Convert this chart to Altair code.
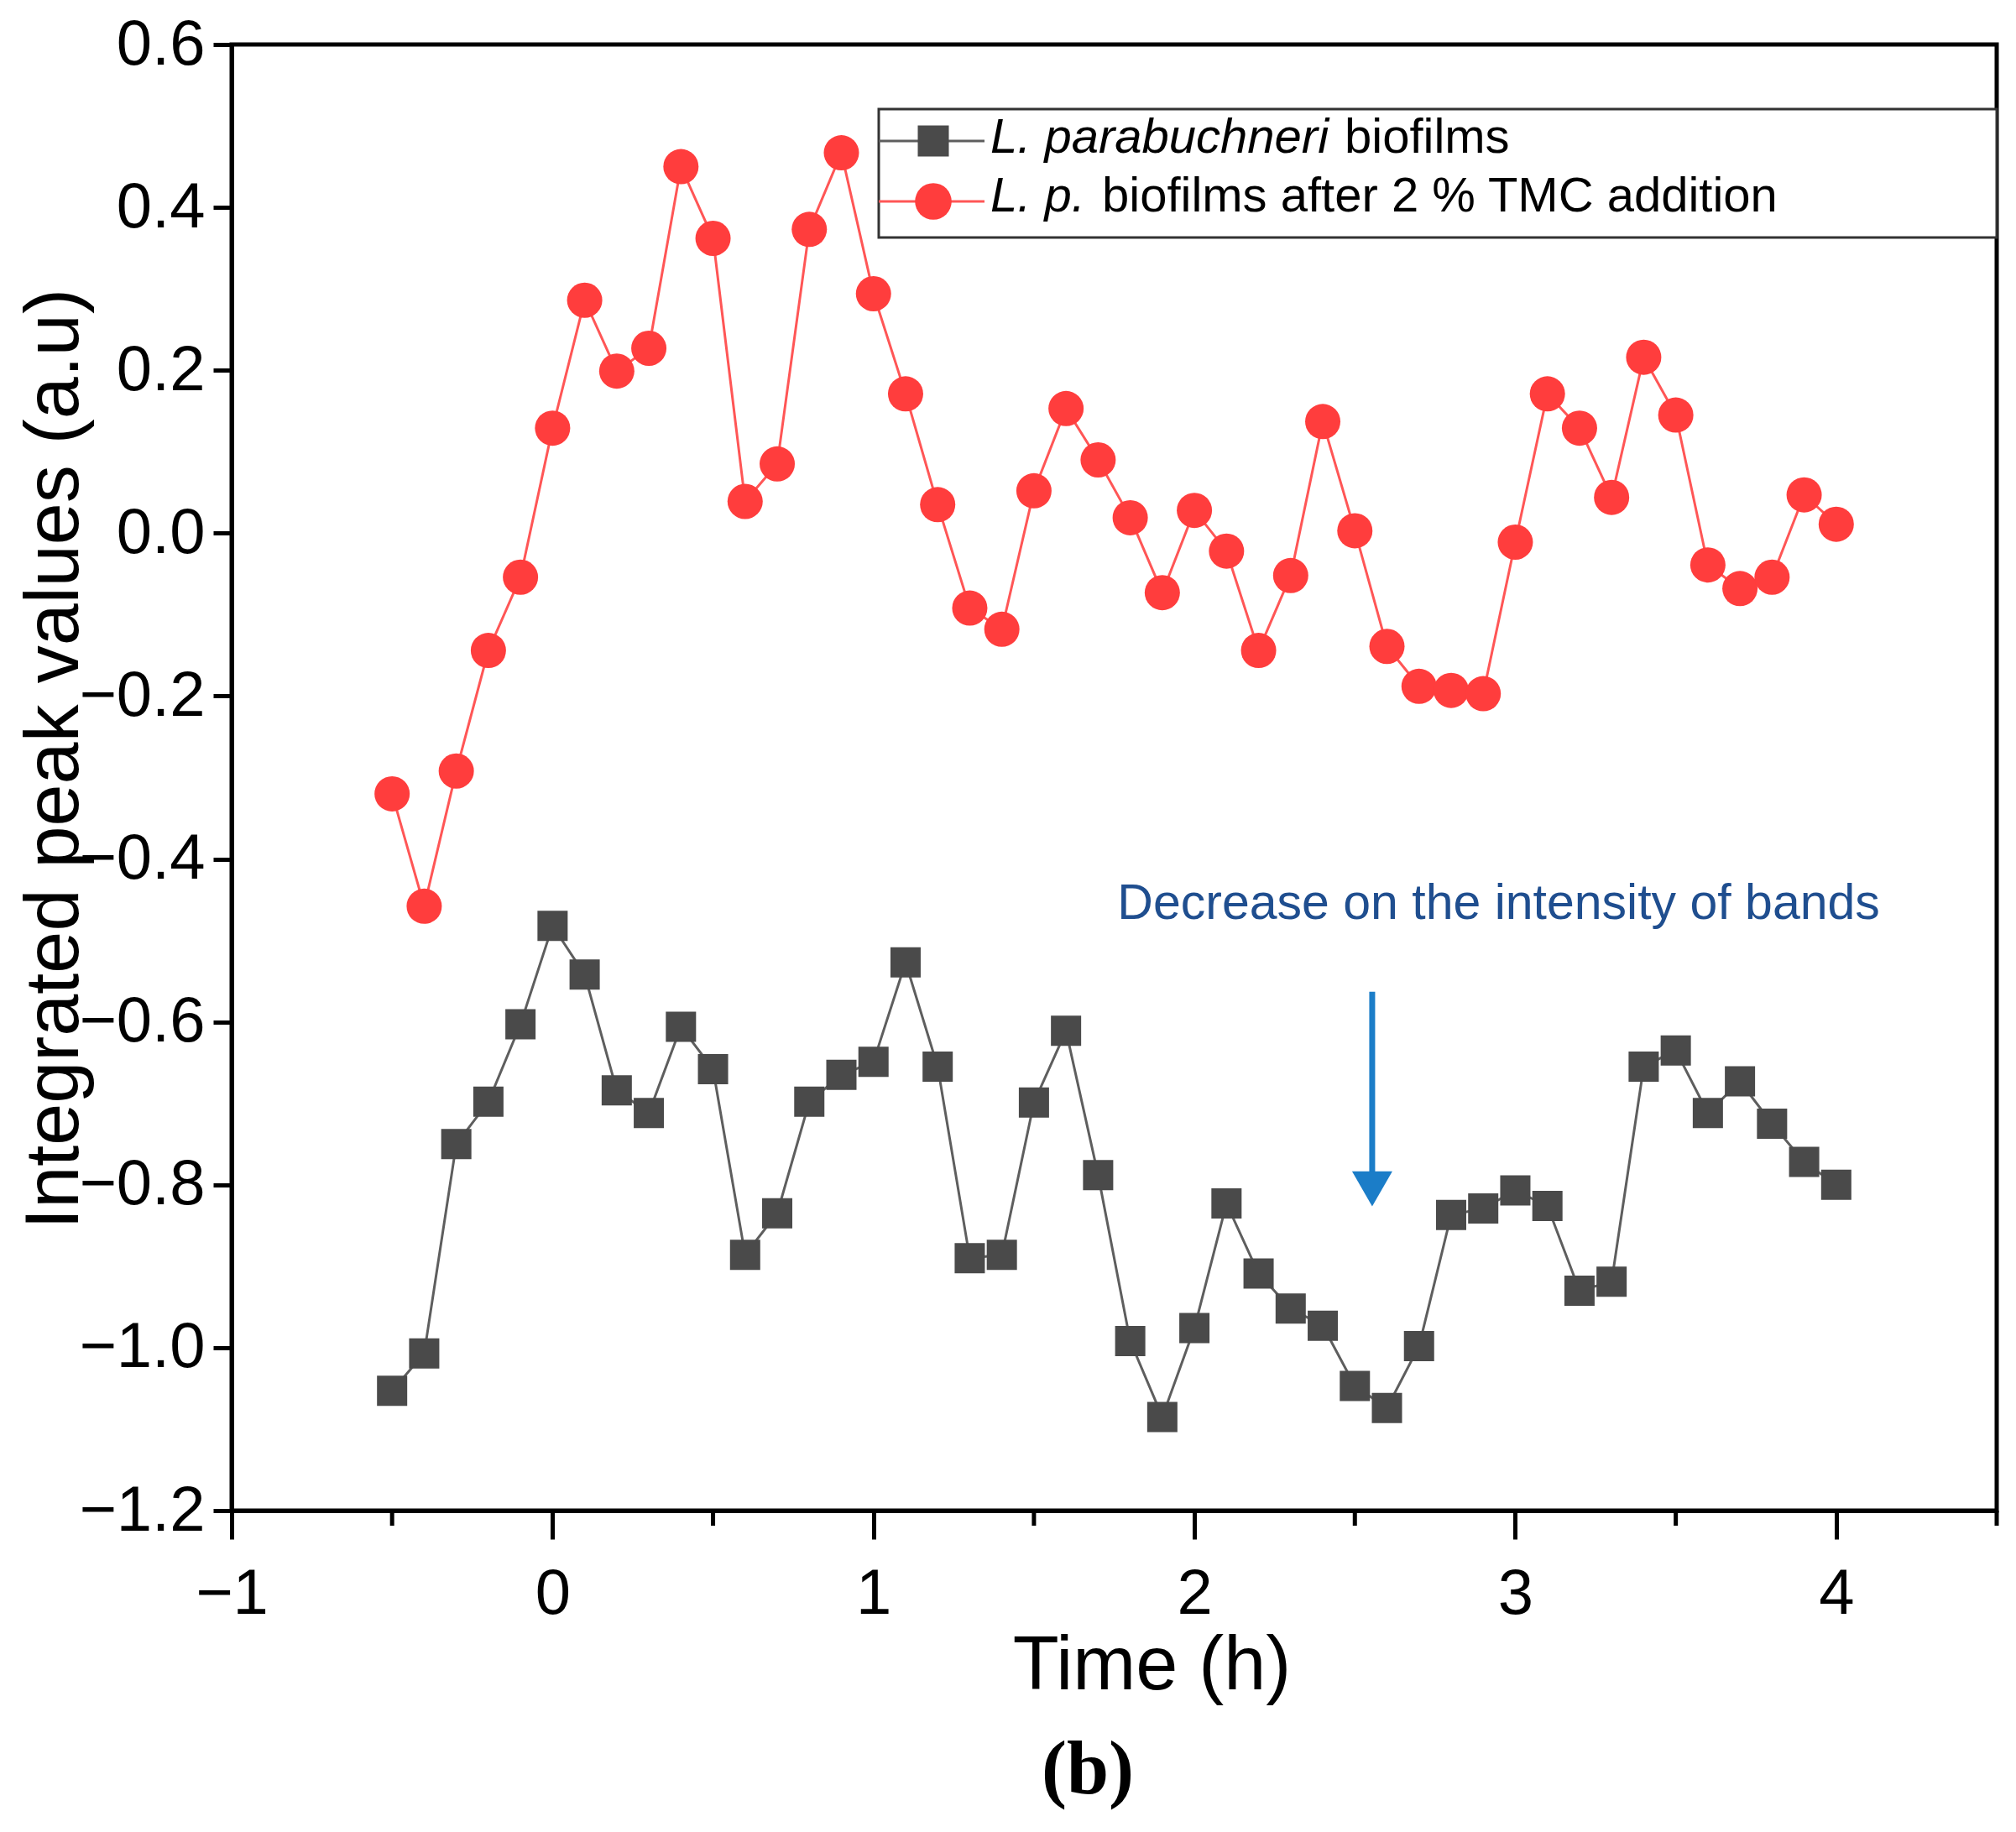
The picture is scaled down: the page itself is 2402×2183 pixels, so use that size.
import altair as alt
import pandas as pd

# ── data ─────────────────────────────────────────────────────────────
time_h = [-0.5, -0.4, -0.3, -0.2, -0.1, 0.0, 0.1, 0.2, 0.3, 0.4,
          0.5, 0.6, 0.7, 0.8, 0.9, 1.0, 1.1, 1.2, 1.3, 1.4,
          1.5, 1.6, 1.7, 1.8, 1.9, 2.0, 2.1, 2.2, 2.3, 2.4,
          2.5, 2.6, 2.7, 2.8, 2.9, 3.0, 3.1, 3.2, 3.3, 3.4,
          3.5, 3.6, 3.7, 3.8, 3.9, 4.0]

biofilm = [-1.053, -1.007, -0.750, -0.698, -0.603, -0.482, -0.542, -0.684, -0.712, -0.606,
           -0.658, -0.886, -0.835, -0.698, -0.665, -0.649, -0.527, -0.655, -0.890, -0.886,
           -0.699, -0.611, -0.788, -0.992, -1.085, -0.976, -0.823, -0.909, -0.952, -0.973,
           -1.047, -1.074, -0.998, -0.837, -0.829, -0.807, -0.826, -0.930, -0.919, -0.655,
           -0.635, -0.712, -0.673, -0.725, -0.772, -0.800]

biofilm_tmc = [-0.320, -0.458, -0.292, -0.144, -0.054, 0.129, 0.286, 0.199, 0.227, 0.450,
               0.362, 0.039, 0.085, 0.373, 0.467, 0.294, 0.171, 0.035, -0.092, -0.118,
               0.052, 0.153, 0.090, 0.019, -0.073, 0.028, -0.022, -0.144, -0.052, 0.137,
               0.003, -0.139, -0.188, -0.193, -0.197, -0.011, 0.171, 0.129, 0.044, 0.216,
               0.145, -0.039, -0.068, -0.054, 0.047, 0.011]

x_ticks = [-1, 0, 1, 2, 3, 4]
x_minor_ticks = [-0.5, 0.5, 1.5, 2.5, 3.5, 4.5]
y_ticks = [-1.2, -1.0, -0.8, -0.6, -0.4, -0.2, 0.0, 0.2, 0.4, 0.6]

note_text = "Decrease on the intensity of bands"
note_x, note_y = 1.76, -0.474
arrow_x, arrow_top, arrow_base, arrow_head = 2.554, -0.563, -0.785, -0.805

W, H = 2103, 1747
FONT = "Liberation Sans"
RED_LINE, RED_PT = "#ff5656", "#ff3d3d"
GRAY_LINE, GRAY_PT = "#5e5e5e", "#4a4a4a"
BLUE_TXT, BLUE_ARROW = "#1f4e8f", "#1b7dc8"

df_gray = pd.DataFrame({"t": time_h, "v": biofilm})
df_red = pd.DataFrame({"t": time_h, "v": biofilm_tmc})
one = pd.DataFrame({"k": [0]})

x_scale = alt.Scale(domain=[-1, 4.5], nice=False, zero=False)
y_scale = alt.Scale(domain=[-1.2, 0.6], nice=False, zero=False)

x_axis = alt.Axis(
    values=x_ticks, format="d", title="Time (h)",
    titleFont=FONT, titleFontSize=90, titleFontWeight="normal", titleColor="black",
    titleX=1096, titleY=212, titleBaseline="alphabetic", titleAlign="center",
    tickSize=34, tickWidth=5, labelPadding=28, labelFlush=False, labelOverlap=False,
)
y_axis = alt.Axis(
    values=y_ticks, format=".1f", title="Integrated peak values (a.u)",
    titleFont=FONT, titleFontSize=90, titleFontWeight="normal", titleColor="black",
    titleAngle=270, titleX=-184, titleY=851, titleBaseline="alphabetic", titleAlign="center",
    tickSize=22, tickWidth=5, labelPadding=10, labelFlush=False, labelOverlap=False,
)

X = alt.X("t:Q", scale=x_scale, axis=x_axis)
Y = alt.Y("v:Q", scale=y_scale, axis=y_axis)

# ── series ───────────────────────────────────────────────────────────
red_line = alt.Chart(df_red).mark_line(color=RED_LINE, strokeWidth=3).encode(X, Y)
red_pts = alt.Chart(df_red).mark_point(shape="circle", filled=True, size=1764,
                                       color=RED_PT, opacity=1).encode(X, Y)
gray_line = alt.Chart(df_gray).mark_line(color=GRAY_LINE, strokeWidth=3).encode(X, Y)
gray_pts = alt.Chart(df_gray).mark_point(shape="square", filled=True, size=1296,
                                         color=GRAY_PT, opacity=1).encode(X, Y)

# ── minor x ticks ────────────────────────────────────────────────────
minor = alt.Chart(pd.DataFrame({"t": x_minor_ticks})).mark_rule(
    color="black", strokeWidth=5
).encode(x=alt.X("t:Q", scale=x_scale, axis=x_axis), y=alt.value(H), y2=alt.value(H + 18))

# ── annotation: text + arrow ─────────────────────────────────────────
note = alt.Chart(pd.DataFrame({"t": [note_x], "v": [note_y], "s": [note_text]})).mark_text(
    font=FONT, fontSize=59, color=BLUE_TXT, align="left", baseline="alphabetic"
).encode(X, Y, text="s:N")

arrow_df = pd.DataFrame({"t": [arrow_x], "v": [arrow_top], "v2": [arrow_base], "vh": [arrow_head]})
arrow_shaft = alt.Chart(arrow_df).mark_rule(color=BLUE_ARROW, strokeWidth=7).encode(
    X, Y, y2="v2:Q"
)
arrow_tip = alt.Chart(arrow_df).mark_point(
    shape="triangle-down", filled=True, size=2304, color=BLUE_ARROW, opacity=1
).encode(X, alt.Y("vh:Q", scale=y_scale, axis=y_axis))

# ── custom legend (mixed italic text) ────────────────────────────────
LX0, LX1, LY0, LY1 = 771, W, 77, 230
ROW1, ROW2 = 115, 187
legend_box = alt.Chart(one).mark_rect(fill="white", stroke="#333333", strokeWidth=3).encode(
    x=alt.value(LX0), x2=alt.value(LX1), y=alt.value(LY0), y2=alt.value(LY1)
)
leg_gray_line = alt.Chart(one).mark_rule(color=GRAY_LINE, strokeWidth=3).encode(
    x=alt.value(LX0), x2=alt.value(897), y=alt.value(ROW1)
)
leg_red_line = alt.Chart(one).mark_rule(color=RED_LINE, strokeWidth=3).encode(
    x=alt.value(LX0), x2=alt.value(897), y=alt.value(ROW2)
)
leg_gray_pt = alt.Chart(one).mark_point(shape="square", filled=True, size=1369,
                                        color=GRAY_PT, opacity=1).encode(
    x=alt.value(836), y=alt.value(ROW1)
)
leg_red_pt = alt.Chart(one).mark_point(shape="circle", filled=True, size=1900,
                                       color=RED_PT, opacity=1).encode(
    x=alt.value(836), y=alt.value(ROW2)
)


def leg_text(txt, x, y, style):
    return alt.Chart(one).mark_text(
        text=txt, font=FONT, fontSize=58, fontStyle=style, color="black",
        align="left", baseline="alphabetic"
    ).encode(x=alt.value(x), y=alt.value(y))


leg_texts = [
    leg_text("L. parabuchneri", 904, ROW1 + 14, "italic"),
    leg_text("biofilms", 1326, ROW1 + 14, "normal"),
    leg_text("L. p.", 904, ROW2 + 12, "italic"),
    leg_text("biofilms after 2 % TMC addition", 1037, ROW2 + 12, "normal"),
]

panel_tag = alt.Chart(one).mark_text(
    text="(b)", font="Liberation Serif", fontSize=90, fontWeight="bold",
    color="black", align="center", baseline="alphabetic"
).encode(x=alt.value(1020), y=alt.value(2084))

chart = alt.layer(
    minor, red_line, red_pts, gray_line, gray_pts, note, arrow_shaft, arrow_tip,
    legend_box, leg_gray_line, leg_red_line, leg_gray_pt, leg_red_pt, *leg_texts, panel_tag
).properties(
    width=W, height=H,
    autosize=alt.AutoSizeParams(type="none"),
    padding={"left": 268, "top": 45, "right": 15, "bottom": 375},
).configure_axis(
    labelFont=FONT, labelFontSize=76, labelColor="black",
    tickColor="black", domainColor="black", domainWidth=5, grid=False,
).configure_view(stroke="black", strokeWidth=5)

chart.save("out.html", embed_options={"renderer": "svg", "actions": False})
print("out.html written")
